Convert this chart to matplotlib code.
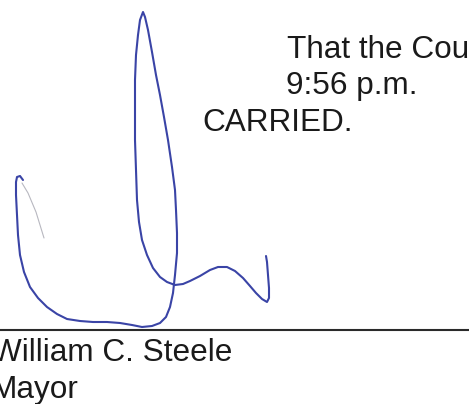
"""Scanned signature block: council motion text, mayor's signature and name."""
import matplotlib
matplotlib.use("Agg")
import matplotlib.pyplot as plt

# Text lines of the page (label, x, baseline y) in page pixels
motion_lines = ["That the Council adjourn at", "9:56 p.m.", "CARRIED."]
motion_x = [287, 286, 202]
motion_y = [58, 94, 131]

name_lines = ["William C. Steele", "Mayor"]
name_x = [-8, -10]
name_y = [361, 398]

signature_line_y = 330

# Signature stroke (page pixels)
sig_x = [23, 20, 17, 16, 16, 17, 18, 20, 24, 30, 38, 47, 57, 67, 80, 93, 107,
         120, 132, 142, 152, 160, 166, 170, 173, 175, 177, 177, 176, 175, 172,
         168, 164, 160, 156, 152, 148, 145, 143,
         140, 138, 136, 135, 135, 135, 136, 137, 139, 142, 147, 153, 160, 167,
         175, 183, 190, 200, 210, 218, 227, 235, 243, 250, 256, 262, 267, 269,
         269, 268, 267, 266]
sig_y = [180, 176, 177, 182, 195, 215, 235, 255, 272, 287, 298, 307, 314, 319,
         321, 322, 322, 323, 325, 327, 326, 323, 317, 307, 293, 275, 253, 233,
         210, 190, 167, 140, 117, 95, 75, 52, 30, 17, 12,
         20, 35, 55, 80, 110, 140, 170, 200, 222, 240, 255, 268, 277, 282, 285,
         284, 281, 276, 270, 267, 267, 271, 278, 286, 293, 299, 302, 298, 288,
         275, 262, 256]

# faint pencil-like tail next to the first hook
tail_x = [22, 28, 36, 44]
tail_y = [183, 193, 212, 238]

fig = plt.figure(figsize=(4.69, 4.04), dpi=100)
ax = fig.add_axes([0, 0, 1, 1])
ax.set_xlim(0, 469)
ax.set_ylim(404, 0)
ax.axis("off")

font = dict(family="Liberation Sans", fontsize=22.7, color="#1a1a1a", va="baseline", ha="left")
for txt, x, y in zip(motion_lines, motion_x, motion_y):
    ax.text(x, y, txt, clip_on=True, **font)
for txt, x, y in zip(name_lines, name_x, name_y):
    ax.text(x, y, txt, clip_on=True, **font)

ax.plot([0, 469], [signature_line_y, signature_line_y], color="#2a2a2a", lw=1.5)

ax.plot(tail_x, tail_y, color="#b8b8c0", lw=0.8, solid_capstyle="round")
ax.plot(sig_x, sig_y, color="#3a44a6", lw=1.5, solid_joinstyle="round",
        solid_capstyle="round")

fig.savefig("out.png", dpi=100)
